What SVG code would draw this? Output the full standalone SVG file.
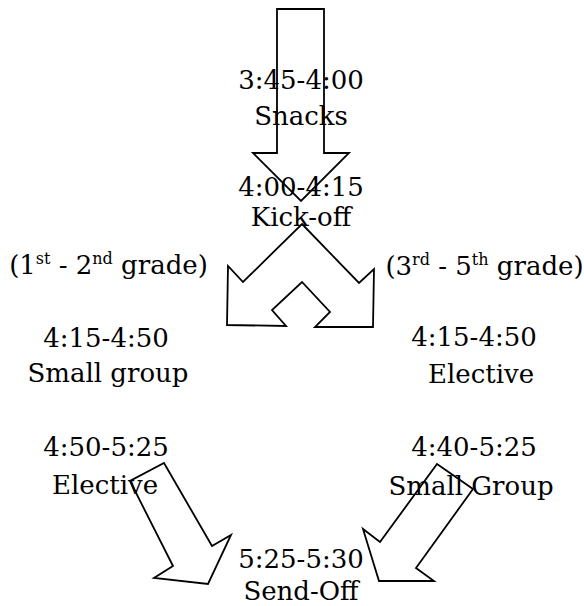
<svg xmlns="http://www.w3.org/2000/svg" width="584" height="606" viewBox="0 0 584 606">
<style>
.arr{fill:#ffffff;stroke:#000000;stroke-width:1.8;stroke-linejoin:miter}
.t text{font-family:"DejaVu Serif",serif;font-size:26px;fill:#000000;text-anchor:middle}
.sup{font-size:16px}
</style>
<rect width="584" height="606" fill="#ffffff"/>
<g id="connectors">
<polygon class="arr" points="277,9 324,9 324,153 349,153 301,201 253,153 277,153"/>
<polygon class="arr" points="302,224 359,283 374,269 373,327 315,327 330,312 302,282 272,310 286,326 227,325 228,266 243,282"/>
<polygon class="arr" points="164,463 212,546 231,535 208,584 154,578 173,566 130,481"/>
<polygon class="arr" points="437,464 473,489 416,568 434,581 379,581 363,529 380,542"/>
</g>
<g class="t">
<g id="snacks"><text x="301" y="89">3:45-4:00</text><text x="301" y="125">Snacks</text></g>
<g id="kickoff"><text x="301" y="196">4:00-4:15</text><text x="301" y="226">Kick-off</text></g>
<g id="grade-12"><text x="108.5" y="274">(1<tspan class="sup" dy="-10">st</tspan><tspan dy="10"> - 2</tspan><tspan class="sup" dy="-10">nd</tspan><tspan dy="10"> grade)</tspan></text></g>
<g id="grade-35"><text x="484.5" y="275">(3<tspan class="sup" dy="-10">rd</tspan><tspan dy="10"> - 5</tspan><tspan class="sup" dy="-10">th</tspan><tspan dy="10"> grade)</tspan></text></g>
<g id="smallgroup-1"><text x="106" y="347">4:15-4:50</text><text x="108" y="382">Small group</text></g>
<g id="elective-1"><text x="474" y="346">4:15-4:50</text><text x="481" y="383">Elective</text></g>
<g id="elective-2"><text x="106" y="456">4:50-5:25</text><text x="105" y="494">Elective</text></g>
<g id="smallgroup-2"><text x="474" y="456">4:40-5:25</text><text x="471" y="495">Small Group</text></g>
<g id="sendoff"><text x="301" y="568">5:25-5:30</text><text x="301" y="600">Send-Off</text></g>
</g>
</svg>
